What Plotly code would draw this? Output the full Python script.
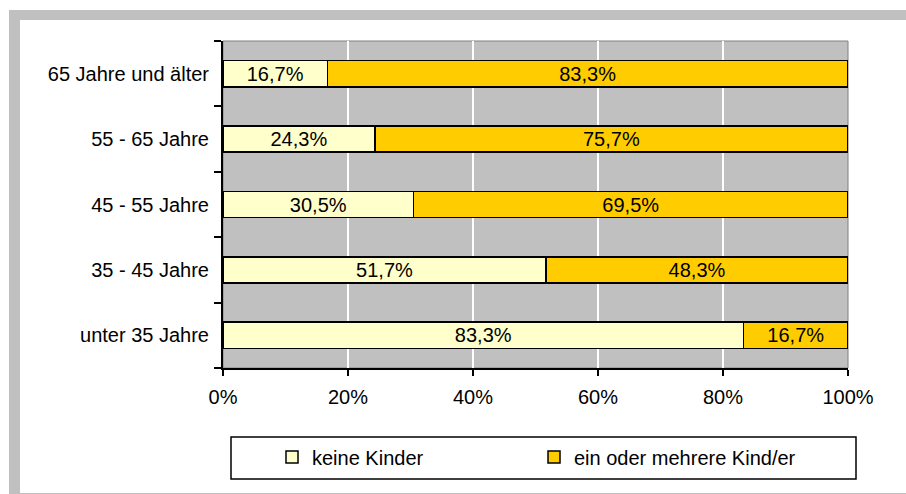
import plotly.graph_objects as go

categories = ["unter 35 Jahre", "35 - 45 Jahre", "45 - 55 Jahre", "55 - 65 Jahre", "65 Jahre und älter"]
keine_kinder = [83.3, 51.7, 30.5, 24.3, 16.7]
mit_kindern = [16.7, 48.3, 69.5, 75.7, 83.3]
series_names = ["keine Kinder", "ein oder mehrere Kind/er"]
x_ticks = [0, 20, 40, 60, 80, 100]
x_tick_labels = ["0%", "20%", "40%", "60%", "80%", "100%"]

OFF = 0  # body margin removed via post_script
W, H = 906, 494
L, R, T, B = 223, 848, 41, 368  # plot area in px

def px_x(p):
    return (p - OFF - L) / (R - L)

def px_y(p):
    return (B - (p - OFF)) / (B - T)

def fmt(v):
    return f"{v:.1f}".replace(".", ",") + "%"

FONT = "Liberation Sans, Arial, sans-serif"

fig = go.Figure()
for name, vals, col in [(series_names[0], keine_kinder, "#FFFFCC"),
                        (series_names[1], mit_kindern, "#FFCC00")]:
    fig.add_trace(go.Bar(
        y=categories, x=vals, name=name, orientation="h",
        marker=dict(color=col, line=dict(color="black", width=1.5)),
        text=[fmt(v) for v in vals], textposition="inside",
        insidetextanchor="middle", textangle=0, constraintext="none",
        textfont=dict(family=FONT, size=20, color="black"),
    ))

shapes = [
    # outer gray frame
    dict(type="rect", xref="paper", yref="paper", layer="below",
         x0=px_x(9), x1=px_x(940), y0=px_y(530), y1=px_y(10),
         fillcolor="#C0C0C0", line=dict(width=0)),
    dict(type="rect", xref="paper", yref="paper", layer="below",
         x0=px_x(20), x1=px_x(940), y0=px_y(493), y1=px_y(20),
         fillcolor="white", line=dict(width=0)),
    # plot area
    dict(type="rect", xref="paper", yref="paper", layer="below",
         x0=0, x1=1, y0=0, y1=1,
         fillcolor="#C0C0C0", line=dict(color="#808080", width=1)),
    # legend box
    dict(type="rect", xref="paper", yref="paper", layer="above",
         x0=px_x(231), x1=px_x(856), y0=px_y(479), y1=px_y(437),
         fillcolor="rgba(0,0,0,0)", line=dict(color="black", width=1.5)),
]

fig.update_layout(
    width=W, height=H,
    margin=dict(l=L, r=W - R, t=T, b=H - B, pad=0),
    barmode="stack", bargap=0.6,
    paper_bgcolor="white", plot_bgcolor="rgba(0,0,0,0)",
    font=dict(family=FONT, size=20, color="black"),
    shapes=shapes,
    showlegend=True,
    legend=dict(orientation="h", x=px_x(272), xanchor="left",
                y=px_y(457), yanchor="middle",
                bgcolor="rgba(0,0,0,0)", borderwidth=0,
                entrywidth=217, entrywidthmode="pixels",
                traceorder="normal",
                font=dict(family=FONT, size=20, color="black")),
    xaxis=dict(range=[0, 100], tickvals=x_ticks, ticktext=x_tick_labels,
               ticks="outside", ticklen=6, tickwidth=1.5, tickcolor="black",
               ticklabelstandoff=4,
               showline=True, linecolor="black", linewidth=2,
               showgrid=True, gridcolor="white", gridwidth=2,
               zeroline=False, fixedrange=True),
    yaxis=dict(categoryorder="array", categoryarray=categories,
               ticks="outside", ticklen=7, tickwidth=1.5, tickcolor="black",
               tickson="boundaries", ticklabelstandoff=8,
               showline=True, linecolor="black", linewidth=2,
               showgrid=False, zeroline=False, fixedrange=True),
)

fig.write_html(
    "out.html",
    config={"displayModeBar": False},
    post_script="document.body.style.margin='0';document.body.style.overflow='hidden';",
)
